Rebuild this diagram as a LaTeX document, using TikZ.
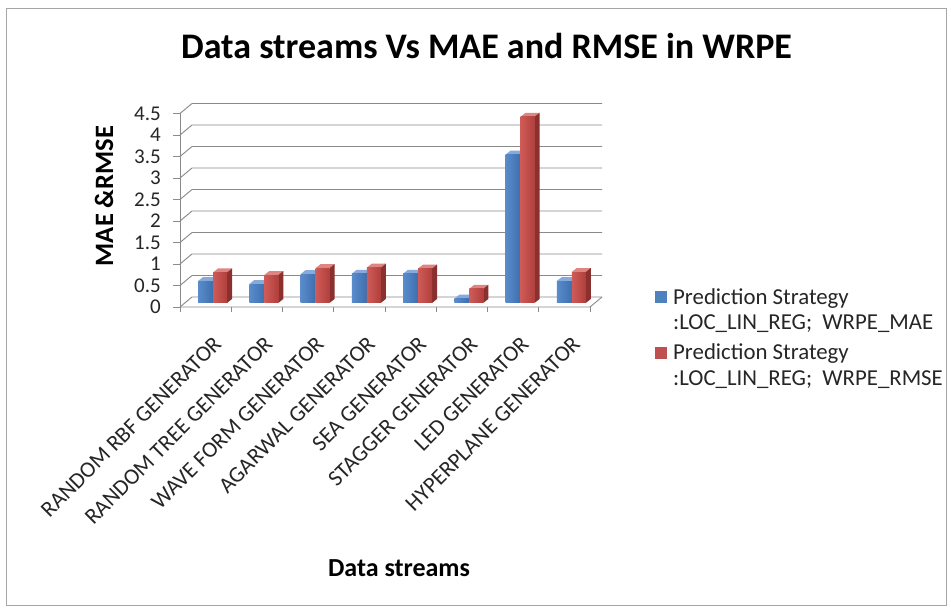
\documentclass[tikz,border=0pt]{standalone}
\usepackage{fontspec}
\setmainfont{Carlito}
\definecolor{gridc}{HTML}{8A8A8A}
\definecolor{frame}{HTML}{A6A6A6}
\definecolor{bfrontL}{HTML}{5A8CCB}
\definecolor{bfrontR}{HTML}{3E6EAE}
\definecolor{btop}{HTML}{86AADB}
\definecolor{rfrontL}{HTML}{CF5B57}
\definecolor{rfrontR}{HTML}{B0403D}
\definecolor{rtop}{HTML}{DE8581}
\definecolor{rside}{HTML}{8A302E}
\definecolor{legblue}{HTML}{4F81BD}
\definecolor{legred}{HTML}{C0504D}
\definecolor{txtc}{HTML}{262626}
\tikzset{
  gridline/.style={draw=gridc, line width=0.9pt},
  ticklab/.style={font=\fontsize{21}{21}\selectfont, text=txtc, inner sep=0pt, anchor=east},
  catlab/.style={font=\fontsize{22.5}{22.5}\selectfont, text=txtc, inner sep=0pt, anchor=north east, rotate=45},
  legtxt/.style={font=\fontsize{22.8}{22.8}\selectfont, text=txtc, inner sep=0pt, anchor=base west},
}
\begin{document}
\begin{tikzpicture}[x=1pt,y=-1pt]
\useasboundingbox (0,0) rectangle (951,612);
\fill[white] (0,0) rectangle (951,612);
\draw[frame, line width=1pt] (6,9) rectangle (946,605);
% title
\node[font=\bfseries\fontsize{36}{36}\selectfont, text=black, inner sep=0pt, anchor=base] (title) at (486.5,59) {Data streams Vs MAE and RMSE in WRPE};
% grid
\foreach \v in {0,0.5,...,4.5} {
  \pgfmathsetmacro\yf{307-43*\v}
  \draw[gridline] (180,\yf) -- (192,\yf-10) -- (602,\yf-10);
  \draw[gridline] (173,\yf) -- (180,\yf);
}
\draw[gridline] (180,307) -- (180,113.5);
\draw[gridline] (180,307) -- (590,307) -- (602,297);
\foreach \k in {0,...,8} {
  \draw[gridline] (180+51.25*\k,307) -- (180+51.25*\k,312);
}
% tick labels
\foreach \v/\t in {0/0,0.5/0.5,1/1,1.5/1.5,2/2,2.5/2.5,3/3,3.5/3.5,4/4,4.5/4.5} {
  \node[ticklab] (t\t) at (161,307-43*\v) {\t};
}
% bars
\foreach \i/\b/\r in {0/0.51/0.71, 1/0.44/0.65, 2/0.67/0.81, 3/0.68/0.82, 4/0.68/0.80, 5/0.10/0.33, 6/3.45/4.33, 7/0.51/0.72} {
  \pgfmathsetmacro\xa{180+51.25*\i+18}
  \pgfmathsetmacro\xb{\xa+15}
  \pgfmathsetmacro\xc{\xb+14}
  \pgfmathsetmacro\yb{303-43*\b}
  \pgfmathsetmacro\yr{303-43*\r}
  \fill[btop] (\xa,\yb) -- (\xa+5,\yb-4) -- (\xb+5,\yb-4) -- (\xb,\yb) -- cycle;
  \shade[left color=bfrontL, right color=bfrontR] (\xa,\yb) rectangle (\xb,303);
  \fill[rtop] (\xb,\yr) -- (\xb+5,\yr-4) -- (\xc+5,\yr-4) -- (\xc,\yr) -- cycle;
  \fill[rside] (\xc,\yr) -- (\xc+5,\yr-4) -- (\xc+5,299) -- (\xc,303) -- cycle;
  \shade[left color=rfrontL, right color=rfrontR] (\xb,\yr) rectangle (\xc,303);
}
% category labels
\foreach \i/\t in {0/RANDOM RBF GENERATOR, 1/RANDOM TREE GENERATOR, 2/WAVE FORM GENERATOR, 3/AGARWAL GENERATOR, 4/SEA GENERATOR, 5/STAGGER GENERATOR, 6/LED GENERATOR, 7/HYPERPLANE GENERATOR} {
  \node[catlab] (c\i) at (180+51.25*\i+25.6+6.5,335) {\t};
}
% axis titles
\node[font=\bfseries\fontsize{26.5}{26.5}\selectfont, text=black, inner sep=0pt, rotate=90] (ytitle) at (104,196) {MAE \&RMSE};
\node[font=\bfseries\fontsize{26}{26}\selectfont, text=black, inner sep=0pt, anchor=base] (xtitle) at (399,576) {Data streams};
% legend
\fill[legblue] (655,291) rectangle (667,303);
\node[legtxt] (l1a) at (673,305) {Prediction Strategy};
\node[legtxt] (l1b) at (673,330) {:LOC\_LIN\_REG;\ \ WRPE\_MAE};
\fill[legred] (655,347) rectangle (667,359);
\node[legtxt] (l2a) at (673,360) {Prediction Strategy};
\node[legtxt] (l2b) at (673,386) {:LOC\_LIN\_REG;\ \ WRPE\_RMSE};
\end{tikzpicture}
\end{document}
